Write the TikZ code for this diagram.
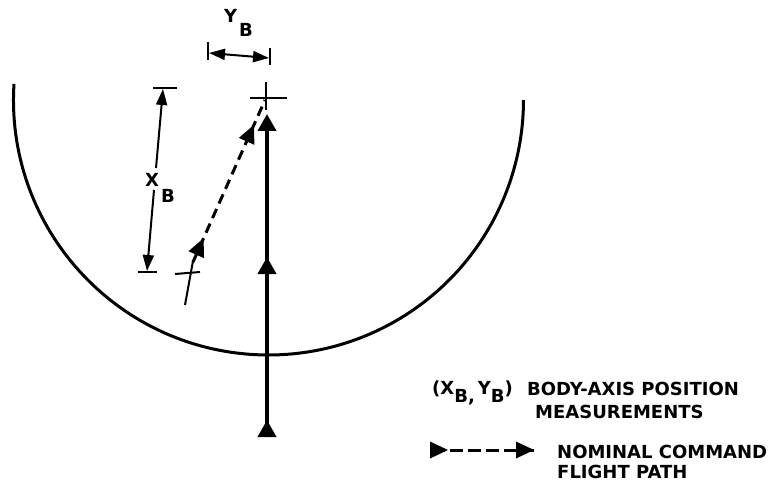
\documentclass[tikz,border=0pt]{standalone}
\usepackage{fontspec}
\setmainfont{DejaVu Sans}
\usetikzlibrary{arrows.meta,decorations.markings}
\tikzset{
  mainhead/.tip={Triangle[width=18pt,length=17pt]},
  dimhead/.tip={Triangle[width=11pt,length=16pt]},
  dtri/.style={fill, solid, line width=0.5pt},
  arcline/.style={line width=3pt},
  mainline/.style={line width=4pt},
  pathline/.style={line width=3pt, dash pattern=on 10pt off 6pt},
  legline/.style={line width=3pt, dash pattern=on 13pt off 5pt},
  dimline/.style={line width=2pt},
  crossline/.style={line width=2pt},
  lbl/.style={inner sep=0pt, anchor=base west, font=\bfseries\fontsize{18}{18}\selectfont},
  legtxt/.style={inner sep=0pt, anchor=base west, font=\bfseries\fontsize{18}{18}\selectfont},
}
\newcommand{\dashtip}{\fill[dtri] (0pt,0pt) -- (-18pt,8.5pt) -- (-18pt,-8.5pt) -- cycle;}
\begin{document}
\begin{tikzpicture}[x=1pt,y=-1pt]
\useasboundingbox (0,0) rectangle (771,492);
% bowl arc
\coordinate (arcL) at (14,84);
\draw[arcline] (arcL) arc[start angle=183.6, end angle=0, radius=255];
% main (actual) flight path
\coordinate (m0) at (267,435);
\coordinate (m1) at (267,114);
\draw[mainline, -{mainhead}, postaction={decorate},
  decoration={markings,
    mark=at position 15pt with {\arrow{mainhead}},
    mark=at position 178pt with {\arrow{mainhead}}}] (m0) -- (m1);
% crosses
\coordinate (tcT) at (266,82); \coordinate (tcB) at (266,110);
\coordinate (tcL) at (250,98); \coordinate (tcR) at (287,98);
\draw[crossline] (tcT) -- (tcB);
\draw[crossline] (tcL) -- (tcR);
\coordinate (lcL) at (175,274); \coordinate (lcR) at (200,272);
\coordinate (lcB) at (185,305); \coordinate (lcT) at (193,261);
\draw[crossline] (lcL) -- (lcR);
\draw[crossline] (lcB) -- (lcT);
% nominal command flight path (dashed)
\coordinate (d0) at (193,262);
\coordinate (d1) at (265,100);
\draw[pathline, postaction={decorate},
  decoration={markings,
    mark=at position 26pt with {\dashtip},
    mark=at position 150pt with {\dashtip}}] (d0) -- (d1);
% X_B dimension
\coordinate (xT1) at (153,88); \coordinate (xT2) at (177,88);
\coordinate (xB1) at (138,272); \coordinate (xB2) at (157,272);
\draw[dimline] (xT1) -- (xT2);
\draw[dimline] (xB1) -- (xB2);
\coordinate (xa0) at (163,89); \coordinate (xa1) at (156,168);
\coordinate (xb0) at (154,190); \coordinate (xb1) at (147,271);
\draw[dimline, {dimhead}-] (xa0) -- (xa1);
\draw[dimline, -{dimhead}] (xb0) -- (xb1);
\node[lbl] (xlX) at (145,186) {X};
\node[lbl] (xlB) at (161,202) {B};
% Y_B dimension
\coordinate (yL1) at (208,42); \coordinate (yL2) at (208,60);
\coordinate (yR1) at (270,48); \coordinate (yR2) at (270,65);
\draw[dimline] (yL1) -- (yL2);
\draw[dimline] (yR1) -- (yR2);
\coordinate (ya0) at (209,53); \coordinate (ya1) at (269,58);
\draw[dimline, {dimhead}-{dimhead}] (ya0) -- (ya1);
\node[lbl] (ylY) at (224,23) {Y};
\node[lbl] (ylB) at (239,37) {B};
% legend
\node[legtxt] (leg1a) at (432,394) {(X\raisebox{-8pt}{B,}\hspace{3pt}Y\raisebox{-8pt}{B})};
\node[legtxt] (leg1b) at (527,395) {BODY-AXIS POSITION};
\node[legtxt] (leg1c) at (535,418) {MEASUREMENTS};
\coordinate (la0) at (432,450);
\coordinate (la1) at (534,450);
\draw[legline, postaction={decorate},
  decoration={markings,
    mark=at position 16pt with {\dashtip},
    mark=at position 1 with {\dashtip}}] (la0) -- (la1);
\node[legtxt] (leg2a) at (557,458) {NOMINAL COMMAND};
\node[legtxt] (leg2b) at (557,478) {FLIGHT PATH};
\end{tikzpicture}
\end{document}
